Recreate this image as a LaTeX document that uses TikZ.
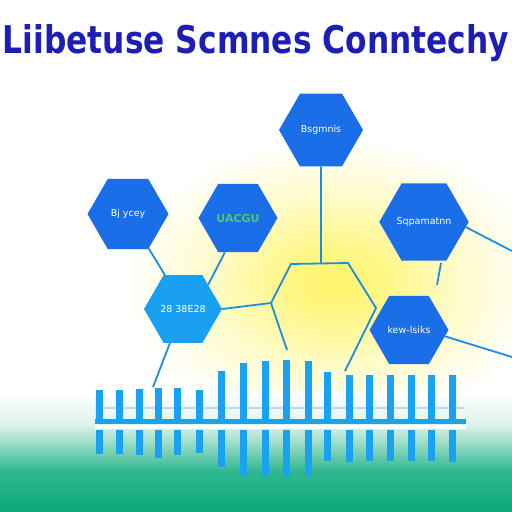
\documentclass[tikz,border=0pt]{standalone}
\usepackage{fontspec}
\usepackage{graphicx}
\setsansfont{DejaVu Sans}
\usetikzlibrary{shapes.geometric}
\definecolor{titleblue}{HTML}{1E1EB4}
\definecolor{hexblue}{HTML}{1A6EE8}
\definecolor{hexsky}{HTML}{1AA0F0}
\definecolor{linkblue}{HTML}{1C8EE0}
\definecolor{barblue}{HTML}{1AA2F2}
\definecolor{glow}{HTML}{FFF46A}
\definecolor{mint}{HTML}{DDF3EA}
\definecolor{meadow}{HTML}{30B890}
\definecolor{grass}{HTML}{0AA878}
\definecolor{hexgreen}{HTML}{48C878}
\definecolor{faintline}{HTML}{B8DCEC}
\pgfdeclareradialshading{sunglow}{\pgfpoint{0bp}{0bp}}{color(0bp)=(glow); color(6bp)=(glow!80!white); color(15bp)=(glow!35!white); color(25bp)=(white); color(50bp)=(white)}
\begin{document}
\begin{tikzpicture}[x=1pt,y=-1pt,
  hexnode/.style={regular polygon, regular polygon sides=6, fill=hexblue, inner sep=0pt,
    text=white, font=\sffamily\fontsize{9.5}{10}\selectfont},
  link/.style={draw=linkblue, line width=1.8pt},
  barfill/.style={fill=barblue}]
\useasboundingbox (0,0) rectangle (512,512);
\fill[white] (0,0) rectangle (512,512);
% glow
\shade[shading=sunglow] (335,282) ellipse [x radius=210, y radius=145];
% ground
\shade[top color=white, bottom color=mint] (0,392) rectangle (512,426);
\shade[top color=mint, bottom color=meadow] (0,425) rectangle (512,471);
\shade[top color=meadow, bottom color=grass] (0,470) rectangle (512,512);
% title
\node[anchor=base, text=titleblue, inner sep=0pt] (title) at (256,53)
  {\resizebox{506pt}{29pt}{\sffamily\bfseries Liibetuse Scmnes Conntechy}};
% hexagons
\node[hexnode, minimum size=84pt] (h1) at (321,130) {Bsgmnis};
\node[hexnode, minimum size=81pt] (h2) at (128,214) {Bj ycey};
\node[hexnode, minimum size=79pt, text=hexgreen, font=\sffamily\bfseries\fontsize{11}{12}\selectfont] (h3) at (238,218) {UACGU};
\node[hexnode, minimum size=86pt] (h4) at (424,222) {Sqpamatnn};
\node[hexnode, minimum size=78pt, fill=hexsky] (h5) at (183,309) {28 38E28};
\node[hexnode, minimum size=79pt] (h6) at (409,330) {kew-lsiks};
% big outline hexagon
\coordinate (bA) at (291,264);
\coordinate (bT) at (321,263.5);
\coordinate (bB) at (348,263);
\coordinate (bC) at (376,308);
\coordinate (bD) at (345,371);
\coordinate (bE) at (287,350);
\coordinate (bF) at (271,303);
\draw[link, line join=round] (bE) -- (bF) -- (bA) -- (bB) -- (bC) -- (bD);
% connectors
\draw[link] (h1.south) -- (bT);
\draw[link] (h5.east) -- (bF);
\draw[link] (h2.-59) -- (h5.118);
\draw[link] (h3.-111) -- (h5.44);
\coordinate (c5) at (153,387);
\draw[link] (h5.-111) -- (c5);
\coordinate (r1) at (441,263);
\coordinate (r2) at (437,285);
\draw[link] (r1) -- (r2);
\coordinate (e4) at (512,251);
\draw[link] (h4.-7) -- (e4);
\coordinate (e6) at (512,357);
\draw[link] (h6.-10) -- (e6);
% faint line
\draw[faintline, line width=2.5pt] (95,408) -- (465,408);
% bars
\foreach \x/\t/\b in {99/390/454, 119/390/454, 139/389/455, 158/388/458, 177/388/455,
  199/390/453, 221/371/467, 243/363/476, 265/361/476, 286/360/476, 308/361/477,
  327/372/461, 349/375/462, 369/375/461, 390/375/461, 411/375/461, 431/375/461, 452/375/462}{
  \fill[barfill] (\x-3.5,\t) rectangle (\x+3.5,421);
  \fill[barfill] (\x-3.5,430) rectangle (\x+3.5,\b);
}
\fill[barfill] (95,419) rectangle (466,424);
\fill[white] (95,425) rectangle (466,428.5);
\end{tikzpicture}
\end{document}
